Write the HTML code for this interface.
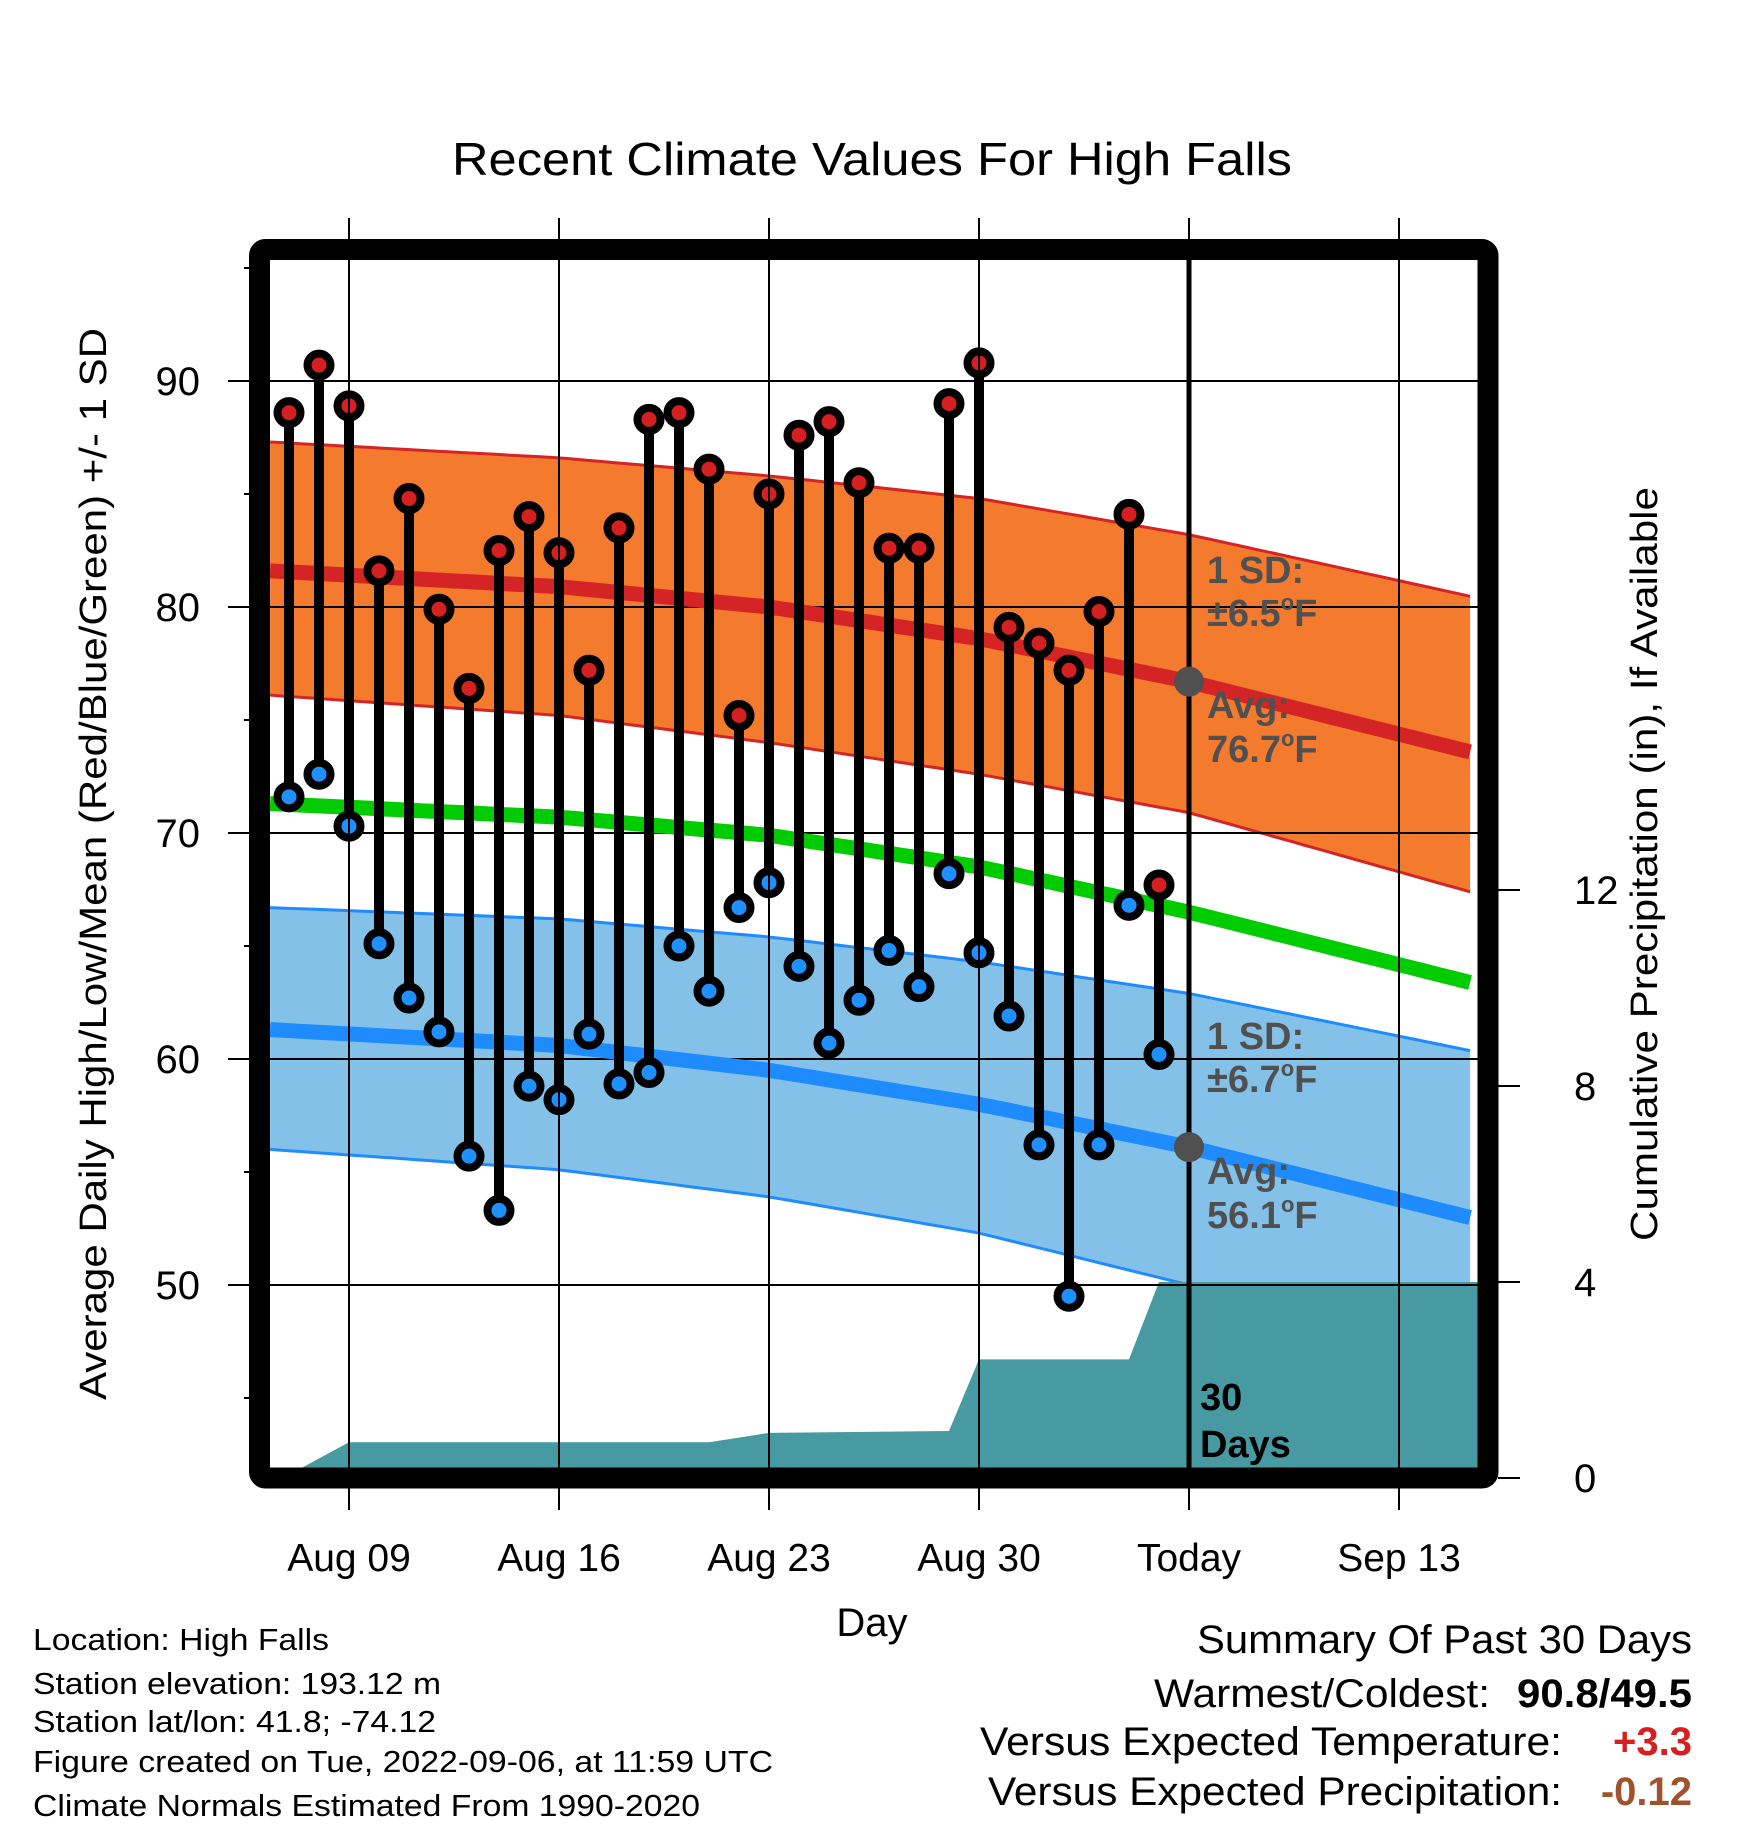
<!DOCTYPE html>
<html><head><meta charset="utf-8"><style>
html,body{margin:0;padding:0;background:#fff;}
svg{display:block;font-family:"Liberation Sans",Arial,sans-serif;}
</style></head><body>
<svg id="chart" width="1748" height="1828" viewBox="0 0 1748 1828" xmlns="http://www.w3.org/2000/svg">
<defs><clipPath id="plotclip"><rect x="270" y="260" width="1208" height="1208"/></clipPath></defs>
<text x="872" y="175" font-size="46" text-anchor="middle" textLength="840" lengthAdjust="spacingAndGlyphs">Recent Climate Values For High Falls</text>
<g id="plot" clip-path="url(#plotclip)"></g>
<g id="axes"></g>
<text transform="translate(106,864) rotate(-90)" font-size="38" text-anchor="middle" textLength="1072" lengthAdjust="spacingAndGlyphs">Average Daily High/Low/Mean (Red/Blue/Green) +/- 1 SD</text>
<text transform="translate(1657,864) rotate(-90)" font-size="38" text-anchor="middle" textLength="754" lengthAdjust="spacingAndGlyphs">Cumulative Precipitation (in), If Available</text>
<text x="872" y="1636" font-size="40" text-anchor="middle">Day</text>
<g font-size="31">
<text x="33" y="1650" textLength="296" lengthAdjust="spacingAndGlyphs">Location: High Falls</text>
<text x="33" y="1694" textLength="408" lengthAdjust="spacingAndGlyphs">Station elevation: 193.12 m</text>
<text x="33" y="1732" textLength="403" lengthAdjust="spacingAndGlyphs">Station lat/lon: 41.8; -74.12</text>
<text x="33" y="1772" textLength="740" lengthAdjust="spacingAndGlyphs">Figure created on Tue, 2022-09-06, at 11:59 UTC</text>
<text x="33" y="1816" textLength="667" lengthAdjust="spacingAndGlyphs">Climate Normals Estimated From 1990-2020</text>
</g>
<g font-size="40" text-anchor="end">
<text x="1692" y="1653" textLength="495" lengthAdjust="spacingAndGlyphs">Summary Of Past 30 Days</text>
<text x="1490" y="1707" textLength="336" lengthAdjust="spacingAndGlyphs">Warmest/Coldest:</text>
<text x="1692" y="1707" font-weight="bold" textLength="175" lengthAdjust="spacingAndGlyphs">90.8/49.5</text>
<text x="1562" y="1755" textLength="582" lengthAdjust="spacingAndGlyphs">Versus Expected Temperature:</text>
<text x="1692" y="1755" font-weight="bold" fill="#d42020">+3.3</text>
<text x="1562" y="1805" textLength="574" lengthAdjust="spacingAndGlyphs">Versus Expected Precipitation:</text>
<text x="1692" y="1805" font-weight="bold" fill="#a0522d">-0.12</text>
</g>
</svg>
<script>
// observed daily data, Aug 7 .. Sep 5
const days = [0,1,2,3,4,5,6,7,8,9,10,11,12,13,14,15,16,17,18,19,20,21,22,23,24,25,26,27,28,29];
const highs = [88.6,90.7,88.9,81.6,84.8,79.9,76.4,82.5,84.0,82.4,77.2,83.5,88.3,88.6,86.1,75.2,85.0,87.6,88.2,85.5,82.6,82.6,89.0,90.8,79.1,78.4,77.2,79.8,84.1,67.7];
const lows = [71.6,72.6,70.3,65.1,62.7,61.2,55.7,53.3,58.8,58.2,61.1,58.9,59.4,65.0,63.0,66.7,67.8,64.1,60.7,62.6,64.8,63.2,68.2,64.7,61.9,56.2,49.5,56.2,66.8,60.2];
const precipDays = [-0.63,-0.2,2,14,16,22,23,28,29,39.63];
const precip = [0,0,0.73,0.73,0.92,0.96,2.42,2.42,4.0,4.0];
// normals
const normDays = [-0.63,9,16,23,30,39.63];
const highAvg = [81.6,80.9,80.0,78.6,76.7,73.5];
const highUp = [87.3,86.6,85.8,84.8,83.2,80.4];
const highLo = [76.1,75.2,74.0,72.6,70.9,67.3];
const meanAvg = [71.3,70.7,69.9,68.5,66.5,63.3];
const lowAvg = [61.3,60.6,59.5,58.0,56.1,52.9];
const lowUp = [66.7,66.2,65.4,64.3,62.9,60.3];
const lowLo = [56.0,55.1,53.9,52.3,50.0,47.0];
const xTickLabels = ["Aug 09","Aug 16","Aug 23","Aug 30","Today","Sep 13"];
const xTickDays = [2,9,16,23,30,37];
const yTicks = [50,60,70,80,90];
const y2Ticks = [0,4,8,12];

const NS="http://www.w3.org/2000/svg";
const X = d => 289 + d*30;
const Y = t => 381 + (90-t)*22.6;
const Y2 = p => 1478 - p*49;
const plot=document.getElementById('plot'), axes=document.getElementById('axes');
function mk(tag,attrs,parent){const e=document.createElementNS(NS,tag);for(const k in attrs)e.setAttribute(k,attrs[k]);parent.appendChild(e);return e;}
function pts(ds,vs,f){return ds.map((d,i)=>X(d).toFixed(1)+','+f(vs[i]).toFixed(1));}
function smooth(ds,vs,f){
  const out=[];for(let d=ds[0];d<=ds[ds.length-1]+1e-6;d+=0.5){let j=0;while(j<ds.length-2&&d>ds[j+1])j++;const t=(d-ds[j])/(ds[j+1]-ds[j]);out.push(X(d).toFixed(1)+','+f(vs[j]+t*(vs[j+1]-vs[j])).toFixed(1));}return out;}
function band(up,lo,fill,edge,name){
  const a=smooth(normDays,up,Y), b=smooth(normDays,lo,Y).reverse();
  const p=mk('polygon',{points:a.concat(b).join(' '),fill:fill},plot);
  
  
  const e1=mk('polyline',{points:a.join(' '),fill:'none',stroke:edge,'stroke-width':3},plot);
  
  
  const e2=mk('polyline',{points:b.join(' '),fill:'none',stroke:edge,'stroke-width':3},plot);
  
  
}
band(highUp,highLo,'#f47a2e','#d42425','high-sd');
band(lowUp,lowLo,'#84c1e8','#1e8cff','low-sd');
// precip
const pp=pts(precipDays,precip,Y2);
const pr=mk('polygon',{points:pp.join(' ')+' '+X(39.63)+',1478 '+X(-0.63)+',1478',fill:'#4799a2'},plot);


// gridlines
yTicks.forEach(t=>{const g=mk('line',{x1:228,x2:1478,y1:Y(t),y2:Y(t),stroke:'#000','stroke-width':2},plot);
  
  });
yTicks.forEach(t=>{const g=mk('line',{x1:228,x2:260,y1:Y(t),y2:Y(t),stroke:'#000','stroke-width':2},axes);
  
  });
xTickDays.forEach((d,i)=>{const g=mk('line',{x1:X(d),x2:X(d),y1:218,y2:1510,stroke:'#000','stroke-width':2},axes);
  
  });
// avg lines
[[highAvg,'#d42425','high-avg-line'],[meanAvg,'#00cc00','mean-avg-line'],[lowAvg,'#1e8cff','low-avg-line']].forEach(([v,c,n])=>{
  const l=mk('polyline',{points:smooth(normDays,v,Y).join(' '),fill:'none',stroke:c,'stroke-width':15},plot);
  
  });
// stems and markers
days.forEach((d,i)=>{
  const s=mk('line',{x1:X(d),x2:X(d),y1:Y(highs[i]),y2:Y(lows[i]),stroke:'#000','stroke-width':10},plot);
  
  
});
days.forEach((d,i)=>{
  const h=mk('circle',{cx:X(d),cy:Y(highs[i]),r:11.5,fill:'#d42020',stroke:'#000','stroke-width':8},plot);
  
  
  const l=mk('circle',{cx:X(d),cy:Y(lows[i]),r:11.5,fill:'#1e90ff',stroke:'#000','stroke-width':8},plot);
  
  
});
// today line & dots
const tl=mk('line',{x1:X(30),x2:X(30),y1:250,y2:1478,stroke:'#000','stroke-width':5},axes);


[highAvg[4],lowAvg[4]].forEach(v=>{const c=mk('circle',{cx:X(30),cy:Y(v),r:15,fill:'#505050'},axes);
  
  });
// annotation labels
function lab(txt,x,y,fill,name){const t=mk('text',{x:x,y:y,'font-size':38,'font-weight':'bold',fill:fill},axes);t.innerHTML=txt;
  
  }
lab('1 SD:',1207,583,'#505050','high-sd-label');
lab('±6.5<tspan font-size="22" dy="-16">o</tspan><tspan dy="16">F</tspan>',1207,626,'#505050','high-sd-value');
lab('Avg:',1207,718,'#505050','high-avg-label');
lab('76.7<tspan font-size="22" dy="-16">o</tspan><tspan dy="16">F</tspan>',1207,762,'#505050','high-avg-value');
lab('1 SD:',1207,1049,'#505050','low-sd-label');
lab('±6.7<tspan font-size="22" dy="-16">o</tspan><tspan dy="16">F</tspan>',1207,1092,'#505050','low-sd-value');
lab('Avg:',1207,1184,'#505050','low-avg-label');
lab('56.1<tspan font-size="22" dy="-16">o</tspan><tspan dy="16">F</tspan>',1207,1228,'#505050','low-avg-value');
lab('30',1200,1410,'#000','days-count-label');
lab('Days',1200,1457,'#000','days-word-label');
// frame
const fr=mk('rect',{x:259.5,y:249.5,width:1228.5,height:1228.5,fill:'none',stroke:'#000','stroke-width':21,rx:6},axes);


// y minor ticks
for(let t=45;t<=95;t+=5){const major=t%10===0;
  const k=mk('line',{x1:major?228:244,x2:250,y1:Y(t),y2:Y(t),stroke:'#000','stroke-width':2},axes);
  
  }
yTicks.forEach(t=>{const tx=mk('text',{x:200,y:Y(t)+14,'font-size':40,'text-anchor':'end'},axes);tx.textContent=t;
  
  });
y2Ticks.forEach(p=>{const k=mk('line',{x1:1498,x2:1520,y1:Y2(p),y2:Y2(p),stroke:'#000','stroke-width':2},axes);
  
  
  const tx=mk('text',{x:1574,y:Y2(p)+14,'font-size':40},axes);tx.textContent=p;
  
  });
xTickDays.forEach((d,i)=>{const tx=mk('text',{x:X(d),y:1571,'font-size':39,'text-anchor':'middle'},axes);tx.textContent=xTickLabels[i];
  
  });
</script>
</body></html>
